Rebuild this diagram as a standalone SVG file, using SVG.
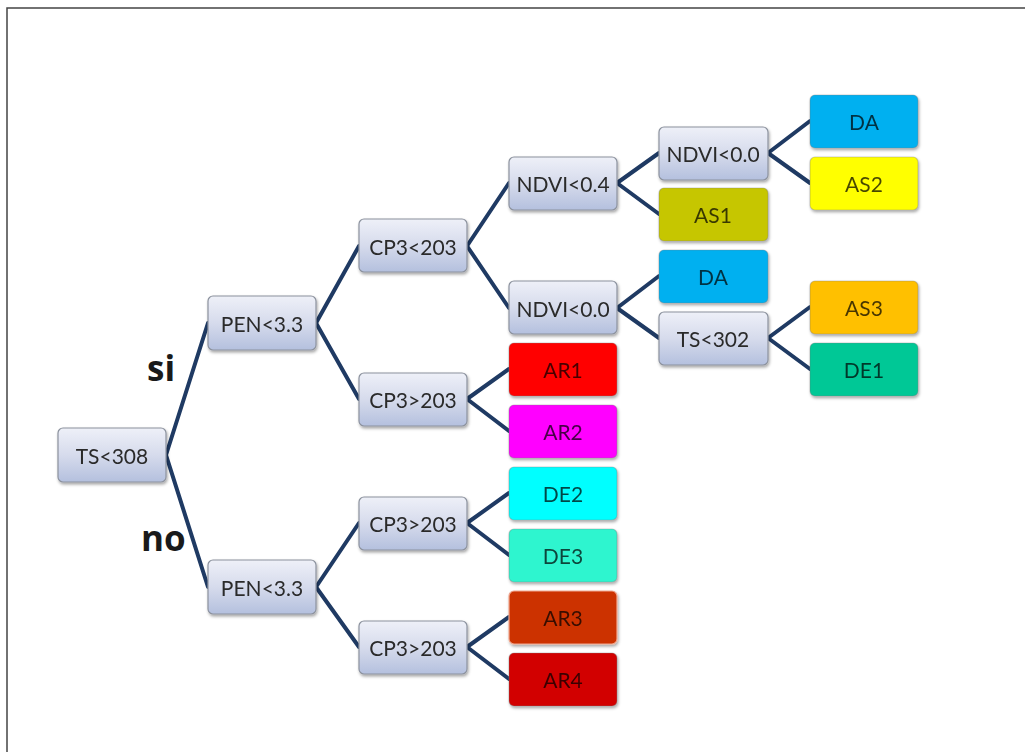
<svg xmlns="http://www.w3.org/2000/svg" width="1025" height="752" viewBox="0 0 1025 752">
<style>
.dec rect{fill:url(#g);stroke:#8c929e;stroke-width:1.2}
.leaf rect{stroke:#7a7a7a;stroke-opacity:0.35;stroke-width:1.2}
text{font-family:"Lato","Open Sans","Liberation Sans",sans-serif;font-size:21px;text-anchor:middle;dominant-baseline:central}
.dec text{fill:#2a2a2a}
.leaf text{fill:#000;fill-opacity:0.72}
.lab{font-family:"Open Sans","Liberation Sans",sans-serif;font-weight:bold;font-size:35px;fill:#1a1a1a;text-anchor:start;dominant-baseline:auto}
.c line{stroke:#1f3a63;stroke-width:4;stroke-linecap:round}
</style>
<defs>
<linearGradient id="g" x1="0" y1="0" x2="0" y2="1">
<stop offset="0" stop-color="#eef0f8"/>
<stop offset="0.5" stop-color="#d6dbec"/>
<stop offset="1" stop-color="#b4c0de"/>
</linearGradient>
<filter id="sh" x="-10%" y="-10%" width="130%" height="140%">
<feDropShadow dx="1" dy="2" stdDeviation="1.8" flood-color="#000" flood-opacity="0.35"/>
</filter>
</defs>
<rect x="0" y="0" width="1025" height="752" fill="#ffffff"/>
<path d="M7,752 V8 H1025" fill="none" stroke="#444" stroke-width="1.5"/>
<g class="c" id="connectors">
<line x1="166" y1="455" x2="208" y2="323"/>
<line x1="166" y1="455" x2="208" y2="587"/>
<line x1="316" y1="323" x2="359" y2="246"/>
<line x1="316" y1="323" x2="359" y2="399"/>
<line x1="316" y1="587" x2="359" y2="523"/>
<line x1="316" y1="587" x2="359" y2="647"/>
<line x1="467" y1="246" x2="509" y2="183"/>
<line x1="467" y1="246" x2="509" y2="308"/>
<line x1="467" y1="399" x2="509" y2="369"/>
<line x1="467" y1="399" x2="509" y2="431"/>
<line x1="467" y1="523" x2="509" y2="493"/>
<line x1="467" y1="523" x2="509" y2="555"/>
<line x1="467" y1="647" x2="509" y2="617"/>
<line x1="467" y1="647" x2="509" y2="679"/>
<line x1="617" y1="183" x2="659" y2="153"/>
<line x1="617" y1="183" x2="659" y2="214"/>
<line x1="617" y1="308" x2="659" y2="276"/>
<line x1="617" y1="308" x2="659" y2="338"/>
<line x1="768" y1="153" x2="810" y2="121"/>
<line x1="768" y1="153" x2="810" y2="183"/>
<line x1="768" y1="338" x2="810" y2="307"/>
<line x1="768" y1="338" x2="810" y2="369"/>
</g>
<text class="lab" x="147" y="381">si</text>
<text class="lab" x="141" y="551">no</text>
<g id="n-ts308" class="dec" filter="url(#sh)"><rect x="58" y="428" width="108" height="54" rx="5"/><text x="112" y="455">TS&lt;308</text></g>
<g id="n-pen1" class="dec" filter="url(#sh)"><rect x="208" y="296" width="108" height="54" rx="5"/><text x="262" y="323">PEN&lt;3.3</text></g>
<g id="n-pen2" class="dec" filter="url(#sh)"><rect x="208" y="560" width="108" height="54" rx="5"/><text x="262" y="587">PEN&lt;3.3</text></g>
<g id="n-cp1" class="dec" filter="url(#sh)"><rect x="359" y="219" width="108" height="53" rx="5"/><text x="413" y="246">CP3&lt;203</text></g>
<g id="n-cp2" class="dec" filter="url(#sh)"><rect x="359" y="373" width="108" height="53" rx="5"/><text x="413" y="399">CP3&gt;203</text></g>
<g id="n-cp3" class="dec" filter="url(#sh)"><rect x="359" y="497" width="108" height="53" rx="5"/><text x="413" y="523">CP3&gt;203</text></g>
<g id="n-cp4" class="dec" filter="url(#sh)"><rect x="359" y="621" width="108" height="53" rx="5"/><text x="413" y="647">CP3&gt;203</text></g>
<g id="n-ndvi04" class="dec" filter="url(#sh)"><rect x="509" y="157" width="108" height="53" rx="5"/><text x="563" y="183">NDVI&lt;0.4</text></g>
<g id="n-ndvi00b" class="dec" filter="url(#sh)"><rect x="509" y="281" width="108" height="53" rx="5"/><text x="563" y="308">NDVI&lt;0.0</text></g>
<g id="n-ndvi00a" class="dec" filter="url(#sh)"><rect x="659" y="127" width="109" height="53" rx="5"/><text x="713" y="153">NDVI&lt;0.0</text></g>
<g id="n-ts302" class="dec" filter="url(#sh)"><rect x="659" y="312" width="109" height="53" rx="5"/><text x="713" y="338">TS&lt;302</text></g>
<g id="l-as1" class="leaf" filter="url(#sh)"><rect x="659" y="188" width="109" height="53" rx="5" fill="#c6c600"/><text x="713" y="214">AS1</text></g>
<g id="l-da2" class="leaf" filter="url(#sh)"><rect x="659" y="250" width="109" height="53" rx="5" fill="#00b0f0"/><text x="713" y="276">DA</text></g>
<g id="l-da1" class="leaf" filter="url(#sh)"><rect x="810" y="95" width="108" height="53" rx="5" fill="#00b0f0"/><text x="864" y="121">DA</text></g>
<g id="l-as2" class="leaf" filter="url(#sh)"><rect x="810" y="157" width="108" height="53" rx="5" fill="#ffff00"/><text x="864" y="183">AS2</text></g>
<g id="l-as3" class="leaf" filter="url(#sh)"><rect x="810" y="281" width="108" height="53" rx="5" fill="#ffc000"/><text x="864" y="307">AS3</text></g>
<g id="l-de1" class="leaf" filter="url(#sh)"><rect x="810" y="343" width="108" height="53" rx="5" fill="#00c896"/><text x="864" y="369">DE1</text></g>
<g id="l-ar1" class="leaf" filter="url(#sh)"><rect x="509" y="343" width="108" height="53" rx="5" fill="#ff0000"/><text x="563" y="369">AR1</text></g>
<g id="l-ar2" class="leaf" filter="url(#sh)"><rect x="509" y="405" width="108" height="53" rx="5" fill="#ff00ff"/><text x="563" y="431">AR2</text></g>
<g id="l-de2" class="leaf" filter="url(#sh)"><rect x="509" y="467" width="108" height="53" rx="5" fill="#00ffff"/><text x="563" y="493">DE2</text></g>
<g id="l-de3" class="leaf" filter="url(#sh)"><rect x="509" y="529" width="108" height="53" rx="5" fill="#2ef5cf"/><text x="563" y="555">DE3</text></g>
<g id="l-ar3" class="leaf" filter="url(#sh)"><rect x="509" y="591" width="108" height="53" rx="5" fill="#cc3300" style="stroke:#f0a890;stroke-opacity:1"/><text x="563" y="617">AR3</text></g>
<g id="l-ar4" class="leaf" filter="url(#sh)"><rect x="509" y="653" width="108" height="53" rx="5" fill="#d20000"/><text x="563" y="679">AR4</text></g>
</svg>
